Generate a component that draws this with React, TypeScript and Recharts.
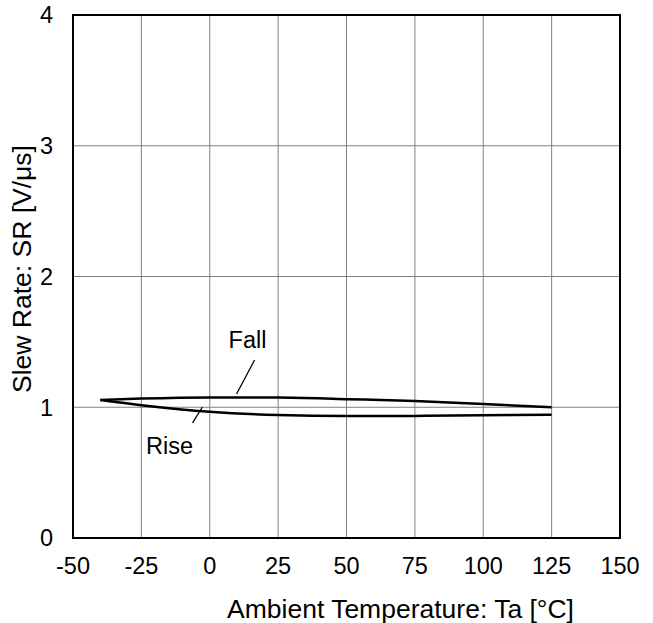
import React from 'react';
import { LineChart, Line, XAxis, YAxis, CartesianGrid, ReferenceArea, ReferenceLine, ReferenceDot } from 'recharts';

const temps = [-40, -25, 0, 25, 50, 75, 100, 125];
const fallSR = [1.055, 1.066, 1.075, 1.075, 1.062, 1.047, 1.025, 1.0];
const riseSR = [1.055, 1.016, 0.965, 0.94, 0.933, 0.934, 0.938, 0.943];
const xTicks = [-50, -25, 0, 25, 50, 75, 100, 125, 150];
const yTicks = [0, 1, 2, 3, 4];
const xLabel = 'Ambient Temperature: Ta [°C]';
const yLabel = 'Slew Rate: SR [V/μs]';

const annotations = [
  { text: 'Fall', tx: 13.8, ty: 1.514, x1: 16.4, y1: 1.361, x2: 9.8, y2: 1.101 },
  { text: 'Rise', tx: -14.7, ty: 0.704, x1: -2.65, y1: 1.002, x2: -6.3, y2: 0.88 },
];

const data = temps.map((t, i) => ({ t, fall: fallSR[i], rise: riseSR[i] }));

const FONT = '"Liberation Sans", Arial, sans-serif';
const FS = 23.5;
const TITLE_FS = 26.5;

const XLabelContent = (props: any) => {
  const vb = props.viewBox || {};
  const cx = vb.x + vb.width / 2 + 54;
  const y = vb.y + vb.height - 5.5;
  return (
    <text x={cx} y={y} textAnchor="middle" fontFamily={FONT} fontSize={TITLE_FS} fill="#000">
      {xLabel}
    </text>
  );
};

const YLabelContent = (props: any) => {
  const vb = props.viewBox || {};
  const x = 30.5;
  const cy = vb.y + vb.height / 2 - 7.5;
  return (
    <text x={x} y={cy} transform={`rotate(-90, ${x}, ${cy})`} textAnchor="middle" fontFamily={FONT} fontSize={TITLE_FS} fill="#000">
      {yLabel}
    </text>
  );
};

export default function App() {
  return (
    <div style={{ position: 'absolute', left: 0, top: 0 }}>
      <LineChart width={653} height={623} data={data} margin={{ top: 15, right: 33, bottom: 0, left: 0 }}>
        <CartesianGrid stroke="#808080" strokeWidth={1} horizontalValues={yTicks} verticalValues={xTicks} />
        <XAxis
          dataKey="t"
          type="number"
          domain={[-50, 150]}
          ticks={xTicks}
          height={85}
          axisLine={false}
          tickLine={false}
          tickSize={0}
          tickMargin={19}
          tick={{ fill: '#000', fontSize: FS, fontFamily: FONT }}
          interval={0}
          label={<XLabelContent />}
        />
        <YAxis
          type="number"
          domain={[0, 4]}
          ticks={yTicks}
          width={73}
          axisLine={false}
          tickLine={false}
          tickSize={0}
          tickMargin={20}
          tick={{ fill: '#000', fontSize: FS, fontFamily: FONT }}
          interval={0}
          label={<YLabelContent />}
        />
        <ReferenceArea x1={-50} x2={150} y1={0} y2={4} fill="none" stroke="#000" strokeWidth={2} ifOverflow="visible" />
        <Line dataKey="fall" type="monotone" stroke="#000" strokeWidth={2.5} dot={false} isAnimationActive={false} />
        <Line dataKey="rise" type="monotone" stroke="#000" strokeWidth={2.5} dot={false} isAnimationActive={false} />
        {annotations.map((a) => (
          <ReferenceLine
            key={a.text + 'l'}
            segment={[{ x: a.x1, y: a.y1 }, { x: a.x2, y: a.y2 }]}
            stroke="#000"
            strokeWidth={1.3}
          />
        ))}
        {annotations.map((a) => (
          <ReferenceDot
            key={a.text + 'd'}
            x={a.tx}
            y={a.ty}
            r={0}
            fill="none"
            stroke="none"
            label={{ value: a.text, position: 'center', fill: '#000', fontSize: FS, fontFamily: FONT }}
          />
        ))}
      </LineChart>
    </div>
  );
}
